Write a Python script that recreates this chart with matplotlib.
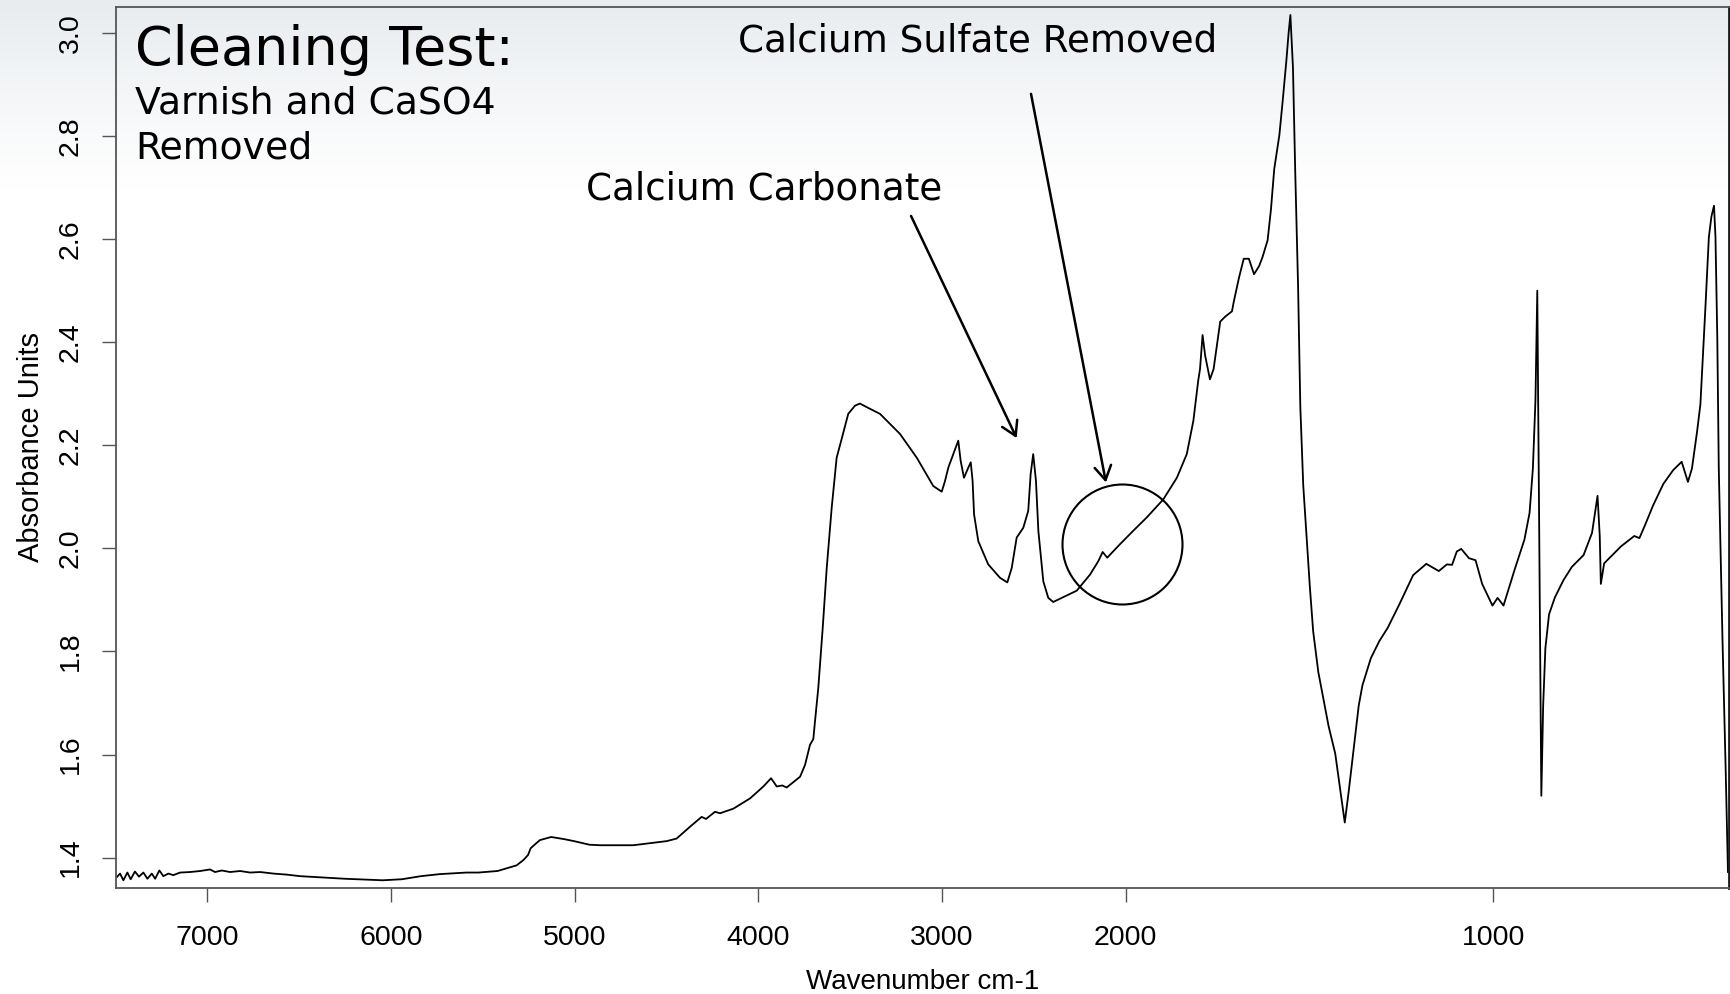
import numpy as np
import matplotlib
matplotlib.use("Agg")
import matplotlib.pyplot as plt

# ---------------- data ----------------
wavenumber = [
    7493, 7475, 7457, 7435, 7417, 7394, 7372, 7348, 7326, 7302, 7284, 7261, 7239, 7212,
    7185, 7148, 7094, 7039, 6985, 6958, 6921, 6876, 6821, 6767, 6712, 6640, 6568, 6495,
    6254, 6045, 5941, 5837, 5733, 5588, 5524, 5420, 5316, 5280, 5254, 5240, 5212, 5189,
    5128, 5060, 5004, 4920, 4862, 4681, 4499, 4445, 4372, 4309, 4285, 4236, 4209, 4136,
    4045, 3973, 3931, 3900, 3870, 3846, 3773, 3746, 3719, 3701, 3692, 3674, 3650, 3628,
    3601, 3574, 3547, 3511, 3474, 3447, 3410, 3338, 3229, 3138, 3048, 3002, 2984, 2966,
    2939, 2912, 2899, 2881, 2857, 2844, 2834, 2826, 2803, 2749, 2685, 2645, 2621, 2594,
    2558, 2531, 2518, 2504, 2489, 2476, 2449, 2422, 2395, 2267, 2195, 2150, 2126, 2101,
    2032, 1980, 1943, 1898, 1861, 1834, 1816, 1803, 1798, 1791, 1784, 1771, 1761, 1743,
    1729, 1711, 1706, 1692, 1679, 1665, 1651, 1637, 1628, 1614, 1605, 1596, 1582, 1573,
    1563, 1557, 1552, 1545, 1539, 1531, 1525, 1517, 1508, 1499, 1490, 1476, 1462, 1448,
    1430, 1416, 1404, 1393, 1379, 1366, 1356, 1333, 1310, 1287, 1255, 1218, 1182, 1148,
    1126, 1112, 1099, 1087, 1066, 1048, 1030, 1002, 988, 972, 942, 915, 901, 892,
    885, 880, 869, 864, 858, 848, 832, 809, 786, 754, 731, 716, 710, 707,
    698, 680, 652, 616, 602, 588, 565, 537, 510, 487, 470, 459, 445, 436,
    422, 413, 406, 399, 395, 390, 386, 376, 367, 361,
]
absorbance = [
    1.362, 1.369, 1.356, 1.371, 1.358, 1.373, 1.363, 1.371, 1.359, 1.369, 1.359, 1.375, 1.364, 1.369,
    1.366, 1.371, 1.372, 1.374, 1.377, 1.372, 1.375, 1.372, 1.374, 1.371, 1.372, 1.369, 1.367, 1.364,
    1.359, 1.356, 1.358, 1.364, 1.368, 1.371, 1.371, 1.374, 1.385, 1.395, 1.405, 1.418, 1.427, 1.434,
    1.440, 1.436, 1.432, 1.425, 1.424, 1.424, 1.432, 1.437, 1.460, 1.479, 1.475, 1.489, 1.486, 1.495,
    1.515, 1.538, 1.554, 1.538, 1.540, 1.536, 1.557, 1.580, 1.619, 1.630, 1.664, 1.729, 1.845, 1.962,
    2.079, 2.176, 2.212, 2.261, 2.277, 2.281, 2.274, 2.261, 2.222, 2.176, 2.121, 2.110, 2.131, 2.157,
    2.183, 2.209, 2.170, 2.137, 2.157, 2.167, 2.131, 2.066, 2.014, 1.969, 1.943, 1.934, 1.962, 2.021,
    2.040, 2.073, 2.144, 2.183, 2.131, 2.034, 1.936, 1.904, 1.896, 1.918, 1.949, 1.975, 1.993, 1.982,
    2.008, 2.034, 2.060, 2.095, 2.137, 2.183, 2.248, 2.325, 2.348, 2.414, 2.374, 2.328, 2.348, 2.440,
    2.450, 2.460, 2.479, 2.525, 2.562, 2.562, 2.532, 2.548, 2.565, 2.598, 2.657, 2.736, 2.802, 2.868,
    2.946, 2.999, 3.035, 2.933, 2.736, 2.506, 2.275, 2.122, 2.024, 1.925, 1.839, 1.760, 1.708, 1.655,
    1.602, 1.530, 1.468, 1.530, 1.616, 1.695, 1.734, 1.787, 1.820, 1.846, 1.892, 1.948, 1.970, 1.956,
    1.969, 1.968, 1.994, 1.999, 1.981, 1.977, 1.931, 1.889, 1.904, 1.889, 1.958, 2.017, 2.069, 2.155,
    2.287, 2.500, 1.520, 1.695, 1.806, 1.872, 1.905, 1.938, 1.964, 1.987, 2.030, 2.102, 2.024, 1.931,
    1.971, 1.984, 2.004, 2.024, 2.020, 2.043, 2.083, 2.125, 2.152, 2.168, 2.129, 2.155, 2.227, 2.280,
    2.473, 2.604, 2.644, 2.665, 2.604, 2.407, 2.155, 1.826, 1.563, 1.372,
]
x_ticks = [7000, 6000, 5000, 4000, 3000, 2000, 1000]
y_ticks = [1.4, 1.6, 1.8, 2.0, 2.2, 2.4, 2.6, 2.8, 3.0]
x_label = "Wavenumber cm-1"
y_label = "Absorbance Units"
title_main = "Cleaning Test:"
title_sub = ["Varnish and CaSO4", "Removed"]
label_sulfate = "Calcium Sulfate Removed"
label_carbonate = "Calcium Carbonate"
carbonate_arrow = {"tip": (2594, 2.214), "tail": (3169, 2.645)}
sulfate_arrow = {"tip": (2108, 2.128), "tail": (2516, 2.882)}
circle_center = (2021, 2.008)

# ---------------- figure ----------------
W, H = 1730, 994
fig = plt.figure(figsize=(W / 100, H / 100), dpi=100)

# slide background: light grey-blue gradient at top fading to white
bg = fig.add_axes([0, 0, 1, 1], zorder=-10)
yy = np.arange(H)
t = np.clip(1 - yy / 190.0, 0, 1) ** 1.1
top = np.array([232, 236, 239]) / 255.0
col = 1 - (1 - top)[None, :] * t[:, None]
img = np.repeat(col[:, None, :], 4, axis=1)
bg.imshow(img, aspect="auto", extent=[0, 1, 0, 1], origin="upper")
bg.axis("off")

ax = fig.add_axes([116 / W, 1 - 887.7 / H, (1728.7 - 116) / W, 880.7 / H])
ax.set_facecolor("none")


def fwd(x):
    x = np.asarray(x, dtype=float)
    return np.where(x >= 2000, x, 2 * x - 2000)


def inv(y):
    y = np.asarray(y, dtype=float)
    return np.where(y >= 2000, y, (y + 2000) / 2)


ax.set_xscale("function", functions=(fwd, inv))
ax.set_xlim(7497, 359)
ax.set_ylim(1.3416, 3.0505)

ax.plot(wavenumber, absorbance, color="black", lw=1.3, solid_joinstyle="round")

# circle around the sulfate region
ax.plot([circle_center[0]], [circle_center[1]], marker="o", ms=86.4,
        mfc="none", mec="black", mew=1.5, ls="none")

arrow_style = dict(arrowstyle="->,head_length=0.5,head_width=0.3", lw=1.8,
                   color="black", shrinkA=0, shrinkB=0, mutation_scale=20)
ax.annotate("", xy=carbonate_arrow["tip"], xytext=carbonate_arrow["tail"],
            arrowprops=arrow_style)
ax.annotate("", xy=sulfate_arrow["tip"], xytext=sulfate_arrow["tail"],
            arrowprops=arrow_style)

vfont = "DejaVu Sans"
ax.text(0.012, 0.934, title_main, transform=ax.transAxes, fontsize=38.9,
        family=vfont, va="baseline", ha="left")
ax.text(0.012, 0.8793, title_sub[0], transform=ax.transAxes, fontsize=27.2,
        family=vfont, va="baseline", ha="left")
ax.text(0.012, 0.8282, title_sub[1], transform=ax.transAxes, fontsize=27.2,
        family=vfont, va="baseline", ha="left")
ax.text(0.3857, 0.9492, label_sulfate, transform=ax.transAxes, fontsize=26.8,
        family=vfont, va="baseline", ha="left")
ax.text(0.2915, 0.7809, label_carbonate, transform=ax.transAxes, fontsize=26.8,
        family=vfont, va="baseline", ha="left")

# axes styling
for side in ["left", "bottom", "top"]:
    ax.spines[side].set_color("#555555")
    ax.spines[side].set_linewidth(1.3)
ax.spines["right"].set_color("#1a1a1a")
ax.spines["right"].set_linewidth(2.0)

ax.set_xticks(x_ticks)
ax.set_xticklabels([str(v) for v in x_ticks])
ax.set_yticks(y_ticks)
ax.set_yticklabels([f"{v:.1f}" for v in y_ticks])
ax.minorticks_off()
ax.tick_params(axis="both", direction="out", length=10, width=1.0, color="#555555")
ax.tick_params(axis="x", labelsize=20.5, pad=17)
ax.tick_params(axis="y", labelsize=20.5, pad=13, labelrotation=90)
for lbl in ax.get_xticklabels() + ax.get_yticklabels():
    lbl.set_family("Liberation Sans")
for lbl in ax.get_yticklabels():
    lbl.set_va("center")

ax.set_xlabel(x_label, fontsize=20, family="Liberation Sans")
ax.set_ylabel(y_label, fontsize=21, family="Liberation Sans")
ax.xaxis.set_label_coords(0.5, -0.0925)
ax.yaxis.set_label_coords(-0.0443, 0.5)

fig.savefig("out.png", dpi=100)
